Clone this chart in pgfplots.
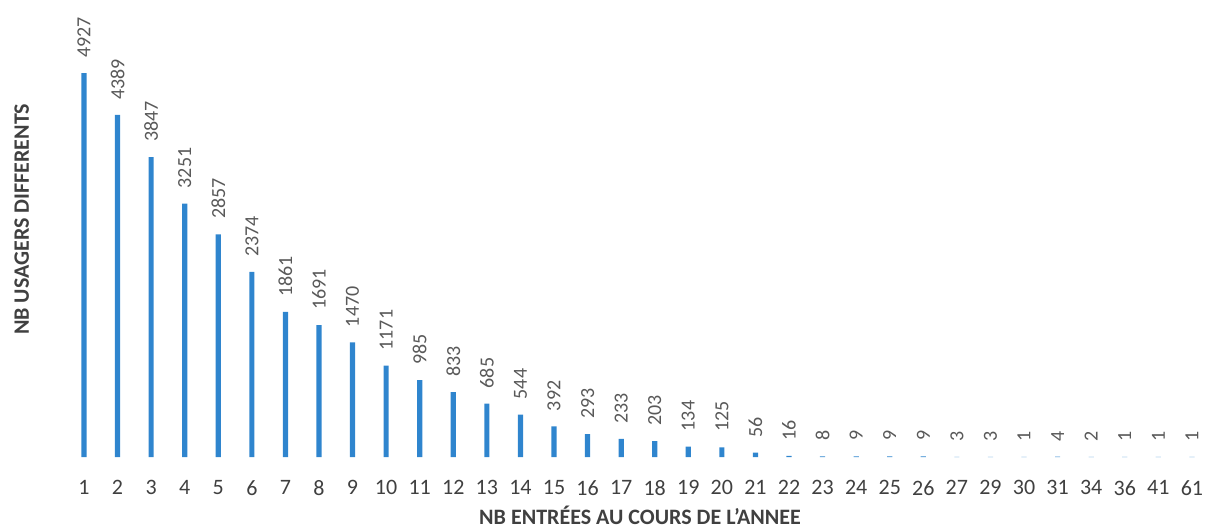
\documentclass[border=0pt]{standalone}
\usepackage{pgfplots}
\pgfplotsset{compat=1.18}
\usepackage{fontspec}
\setmainfont{Carlito}
\definecolor{barblue}{RGB}{47,133,206}
\definecolor{txtgray}{RGB}{64,64,64}
\definecolor{lblgray}{RGB}{89,89,89}
\begin{document}
\begin{tikzpicture}
\begin{axis}[
    at={(33.6pt,37pt)}, anchor=south west,
    scale only axis,
    width=569.4pt, height=228.5pt,
    ybar, bar width=2.6pt,
    xmin=-0.5, xmax=33.42,
    ymin=0, ymax=5864,
    clip=false,
    axis line style={draw=none},
    tick style={draw=none},
    ytick=\empty,
    xtick=data,
    xticklabels={1,2,3,4,5,6,7,8,9,10,11,12,13,14,15,16,17,18,19,20,21,22,23,24,25,26,27,29,30,31,34,36,41,61},
    xticklabel style={font=\fontsize{11}{13}\selectfont, text=txtgray, yshift=-4pt},
    /pgf/number format/assume math mode=true,
    /pgf/number format/1000 sep={},
    nodes near coords,
    nodes near coords style={rotate=90, anchor=west, inner xsep=7.5pt, inner ysep=0pt,
        font=\fontsize{10}{12}\selectfont, text=lblgray},
    xlabel={NB ENTRÉES AU COURS DE L'ANNEE},
    ylabel={NB USAGERS DIFFERENTS},
    xlabel style={at={(axis description cs:0.503,-0.128)}, anchor=center,
        font=\bfseries\fontsize{11}{13}\selectfont, text=txtgray},
    ylabel style={at={(axis description cs:-0.04,0.52)}, anchor=center,
        font=\bfseries\fontsize{11}{13}\selectfont, text=txtgray},
]
\addplot[fill=barblue, draw=none] coordinates {
    (0,4927) (1,4389) (2,3847) (3,3251) (4,2857) (5,2374) (6,1861) (7,1691)
    (8,1470) (9,1171) (10,985) (11,833) (12,685) (13,544) (14,392) (15,293)
    (16,233) (17,203) (18,134) (19,125) (20,56) (21,16) (22,8) (23,9)
    (24,9) (25,9) (26,3) (27,3) (28,1) (29,4) (30,2) (31,1) (32,1) (33,1)
};
\end{axis}
\pgfresetboundingbox
\path (0,0) rectangle (603pt,265.5pt);
\end{tikzpicture}
\end{document}
